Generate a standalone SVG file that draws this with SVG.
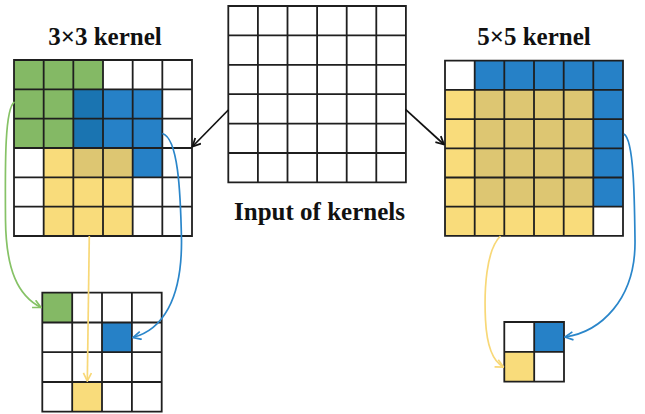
<svg xmlns="http://www.w3.org/2000/svg" width="645" height="414" viewBox="0 0 645 414">
<style>
.g{fill:none;stroke:#1f1f1f;stroke-width:1.8}
.t{font-family:"Liberation Serif","Times New Roman",serif;font-weight:bold;font-size:25px;fill:#111;text-anchor:middle}
.green{fill:#84B965}
.blue{fill:#2681C7}
.dblue{fill:#1A74B1}
.yel{fill:#F9DC7B}
.olv{fill:#DDC672}
.c{fill:none;stroke-width:1.7}
</style>
<defs>
<marker id="ak" viewBox="0 0 10 10" refX="9" refY="5" markerWidth="10" markerHeight="10" markerUnits="userSpaceOnUse" orient="auto"><path d="M1,1 L9,5 L1,9" fill="none" stroke="#111" stroke-width="1.8"/></marker>
<marker id="ag" viewBox="0 0 10 10" refX="9" refY="5" markerWidth="10" markerHeight="10" markerUnits="userSpaceOnUse" orient="auto"><path d="M1,1 L9,5 L1,9" fill="none" stroke="#86C266" stroke-width="1.7"/></marker>
<marker id="ay" viewBox="0 0 10 10" refX="9" refY="5" markerWidth="10" markerHeight="10" markerUnits="userSpaceOnUse" orient="auto"><path d="M1,1 L9,5 L1,9" fill="none" stroke="#F8D877" stroke-width="1.7"/></marker>
<marker id="ab" viewBox="0 0 10 10" refX="9" refY="5" markerWidth="10" markerHeight="10" markerUnits="userSpaceOnUse" orient="auto"><path d="M1,1 L9,5 L1,9" fill="none" stroke="#2A86CA" stroke-width="1.7"/></marker>
</defs>

<g id="kernel3">
<text class="t" x="105" y="45">3×3 kernel</text>
<rect class="green" x="14" y="60" width="89" height="29.33"/>
<rect class="green" x="14" y="89.33" width="59.33" height="58.67"/>
<rect class="dblue" x="73.33" y="89.33" width="29.67" height="58.67"/>
<rect class="blue" x="103" y="89.33" width="59.33" height="58.67"/>
<rect class="blue" x="132.67" y="148" width="29.67" height="29.33"/>
<rect class="olv" x="73.33" y="148" width="59.33" height="29.33"/>
<rect class="yel" x="43.67" y="148" width="29.67" height="29.33"/>
<rect class="yel" x="43.67" y="177.33" width="89" height="58.67"/>
<path class="g" d="M14,60H192V236H14Z M43.67,60V236 M73.33,60V236 M103,60V236 M132.67,60V236 M162.33,60V236 M14,89.33H192 M14,118.67H192 M14,148H192 M14,177.33H192 M14,206.67H192"/>
</g>

<g id="input">
<path class="g" d="M228.3,6H405.9V182.4H228.3Z M257.9,6V182.4 M287.5,6V182.4 M317.1,6V182.4 M346.7,6V182.4 M376.3,6V182.4 M228.3,35.4H405.9 M228.3,64.8H405.9 M228.3,94.2H405.9 M228.3,123.6H405.9 M228.3,153H405.9"/>
<text class="t" x="319.5" y="220">Input of kernels</text>
</g>

<g id="kernel5">
<text class="t" x="534" y="45">5×5 kernel</text>
<rect class="blue" x="474.7" y="60.7" width="148.3" height="29.2"/>
<rect class="blue" x="593.3" y="89.9" width="29.7" height="116.8"/>
<rect class="yel" x="445" y="89.9" width="29.7" height="146"/>
<rect class="yel" x="474.7" y="206.7" width="118.6" height="29.2"/>
<rect class="olv" x="474.7" y="89.9" width="118.6" height="116.8"/>
<path class="g" d="M445,60.7H623V235.9H445Z M474.7,60.7V235.9 M504.3,60.7V235.9 M534,60.7V235.9 M563.7,60.7V235.9 M593.3,60.7V235.9 M445,89.9H623 M445,119.1H623 M445,148.3H623 M445,177.5H623 M445,206.7H623"/>
</g>

<g id="output3">
<rect class="green" x="42.3" y="292.7" width="29.9" height="29.8"/>
<rect class="blue" x="102" y="322.5" width="29.9" height="29.7"/>
<rect class="yel" x="72.2" y="382" width="29.8" height="29.7"/>
<path class="g" d="M42.3,292.7H161.7V411.7H42.3Z M72.2,292.7V411.7 M102,292.7V411.7 M131.9,292.7V411.7 M42.3,322.5H161.7 M42.3,352.2H161.7 M42.3,382H161.7"/>
</g>

<g id="output5">
<rect class="blue" x="534.2" y="322" width="29.8" height="29.8"/>
<rect class="yel" x="504.3" y="351.8" width="29.9" height="29.9"/>
<path class="g" d="M504.3,322H564V381.7H504.3Z M534.2,322V381.7 M504.3,351.8H564"/>
</g>

<g id="connectors">
<path class="c" stroke="#111" d="M228.3,110 L192.5,146.5" marker-end="url(#ak)"/>
<path class="c" stroke="#111" d="M405.5,109.3 L444,144.5" marker-end="url(#ak)"/>
<path class="c" stroke="#86C266" d="M14.5,102 C5,108 5,160 5.5,220 C6,270 18,296 41,307.5" marker-end="url(#ag)"/>
<path class="c" stroke="#F8D877" d="M89.3,236 L87.3,381" marker-end="url(#ay)"/>
<path class="c" stroke="#2A86CA" d="M162.3,133.5 C178,138 180.5,190 181.5,240 C182,300 162,330 133,337.5" marker-end="url(#ab)"/>
<path class="c" stroke="#F8D877" d="M500.5,236 C486,250 484,290 485.5,320 C487,350 494,362 503.5,367" marker-end="url(#ay)"/>
<path class="c" stroke="#2A86CA" d="M624,134 C634,140 634.5,200 635,240 C636,300 600,332 565,337" marker-end="url(#ab)"/>
</g>
</svg>
